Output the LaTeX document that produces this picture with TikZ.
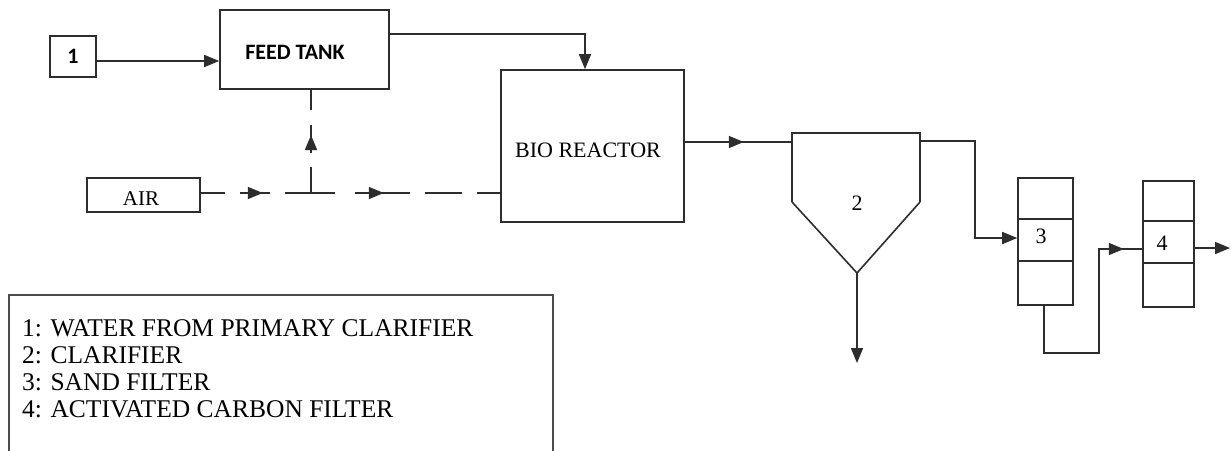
\documentclass[tikz,border=0pt]{standalone}
\usepackage{fontspec}
\setmainfont{Liberation Serif}
\newfontfamily\carlito{Carlito}
\usetikzlibrary{arrows.meta,decorations.markings}
\definecolor{linec}{RGB}{45,45,45}
\tikzset{
  ln/.style={draw=linec,line width=1.6pt},
  box/.style={ln,rectangle,inner sep=0pt},
  tip/.style={-{Triangle[length=15pt,width=12pt]}},
  midarrow/.style={postaction={decorate,decoration={markings,
      mark=at position #1 with {\arrow{Triangle[length=15pt,width=12pt]}}}}},
  airline/.style={ln,dash pattern=on 24pt off 15pt on 30pt off 15pt on 50pt off 20pt on 55pt off 15pt on 37pt off 15pt on 40pt off 2pt},
  airup/.style={ln,dash pattern=on 26pt off 14pt on 28pt off 15pt on 40pt off 2pt},
  sanslbl/.style={font=\carlito\bfseries\fontsize{22}{26}\selectfont,text=black},
  serlbl/.style={font=\fontsize{22}{26}\selectfont,text=black},
  leg/.style={font=\fontsize{25.5}{27}\selectfont,text=black,anchor=base west,inner sep=0pt}
}
\begin{document}
\begin{tikzpicture}[x=1pt,y=-1pt]
\useasboundingbox (0,0) rectangle (1231,450);
\fill[white] (0,0) rectangle (1231,450);

% boxes
\node[box,minimum width=46pt,minimum height=41pt,sanslbl] (b1) at (73,56.5) {1};
\node[box,minimum width=169pt,minimum height=79pt] (feed) at (304.5,49.5) {};
\node[sanslbl] (feedlbl) at (295,52) {FEED TANK};
\node[box,minimum width=113pt,minimum height=34pt] (air) at (143.5,195) {};
\node[serlbl,font=\fontsize{21}{24}\selectfont] (airlbl) at (141,199) {AIR};
\node[box,minimum width=183pt,minimum height=152pt] (bio) at (592.5,146) {};
\node[serlbl] (biolbl) at (588,150) {BIO REACTOR};

% clarifier
\coordinate (cTL) at (792,133);
\coordinate (cTR) at (920,133);
\coordinate (cBL) at (792,202);
\coordinate (cBR) at (920,202);
\coordinate (cApex) at (857,273);
\coordinate (cIn) at (792,142);
\coordinate (cOut) at (920,141);
\coordinate (sludge) at (857,363);
\draw[ln,line join=miter] (cBL) -- (cTL) -- (cTR) -- (cBR);
\draw[ln] (cBL) -- (cApex) -- (cBR);
\node[serlbl] (c2) at (857,203) {2};

% filters
\node[box,minimum width=55pt,minimum height=127pt] (f3) at (1045.5,241.5) {};
\draw[ln] (f3.west |- 0,219) -- (f3.east |- 0,219);
\draw[ln] (f3.west |- 0,261) -- (f3.east |- 0,261);
\node[serlbl] (f3lbl) at (1041,236) {3};
\node[box,minimum width=51pt,minimum height=126pt] (f4) at (1168.5,244) {};
\draw[ln] (f4.west |- 0,221) -- (f4.east |- 0,221);
\draw[ln] (f4.west |- 0,263) -- (f4.east |- 0,263);
\node[serlbl] (f4lbl) at (1162,243) {4};

% connectors
\draw[ln,tip] ([yshift=-4.5pt]b1.east) -- ([yshift=-4.5pt]b1.east -| feed.west);
\draw[ln,tip] ([yshift=15.5pt]feed.east) -| ([xshift=-7.5pt]bio.north);
\draw[ln,midarrow=59pt] ([yshift=4pt]bio.east) -- (cIn);
\draw[ln,tip] (cApex) -- (sludge);
\coordinate (k1) at (975,141);
\draw[ln,tip] (cOut) -- (k1) |- ([yshift=3.5pt]f3.west);
\coordinate (k3) at (1099,353);
\draw[ln,midarrow=231pt] ([xshift=-1.5pt]f3.south) |- (k3) |- ([yshift=-5pt]f4.west);
\coordinate (out4) at (1230,248);
\draw[ln,tip] ([yshift=-4pt]f4.east) -- (out4);

% air lines
\coordinate (jA) at (311,193);
\draw[airline,midarrow=62pt,midarrow=183pt] ([yshift=2pt]air.east) -- (bio.west |- jA);
\draw[airup,midarrow=58pt] (jA) -- (jA |- feed.south);

% legend
\draw[ln,draw=linec!85] (9,451) -- (9,295) -- (553,295) -- (553,451);
\node[leg] (leg1) at (22,336) {1: WATER FROM PRIMARY CLARIFIER};
\node[leg] (leg2) at (22,363) {2: CLARIFIER};
\node[leg] (leg3) at (22,390) {3: SAND FILTER};
\node[leg] (leg4) at (22,417) {4: ACTIVATED CARBON FILTER};
\end{tikzpicture}
\end{document}
